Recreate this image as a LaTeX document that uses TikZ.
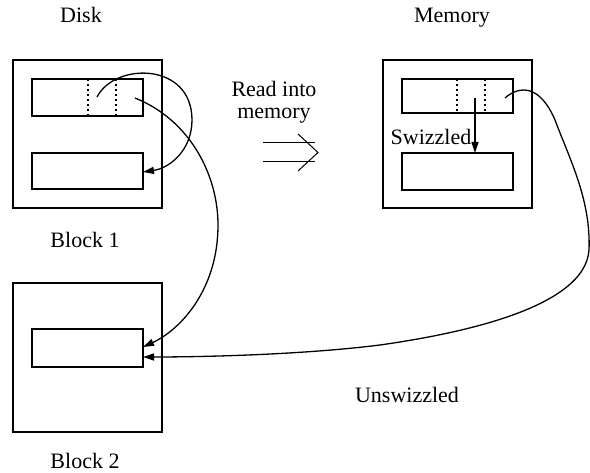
\documentclass[tikz,border=0pt]{standalone}
\usepackage{fontspec}
\setmainfont{Liberation Serif}
\newfontfamily\tmsfont{Liberation Serif}
\usetikzlibrary{arrows.meta}
\begin{document}
\begin{tikzpicture}[x=1pt,y=-1pt,
  box/.style={draw,line width=1.3pt,inner sep=0pt,outer sep=0pt},
  lbl/.style={font=\tmsfont\fontsize{22}{24}\selectfont,anchor=base,inner sep=0pt},
  dots/.style={line width=1.1pt,dash pattern=on 2pt off 3pt},
  conn/.style={line width=1.3pt,-{Triangle[length=11pt,width=7pt]}},
  conn0/.style={line width=1.3pt}]
\useasboundingbox (0,0) rectangle (590,473);
% Block 1
\node[box,minimum width=149pt,minimum height=148pt] (b1) at (87.5,134) {};
\node[box,minimum width=111pt,minimum height=37pt] (b1top) at (87.5,97.5) {};
\node[box,minimum width=111pt,minimum height=36pt] (b1bot) at (87.5,171) {};
\draw[dots] (88,79) -- (88,116);
\draw[dots] (116,79) -- (116,116);
% Block 2
\node[box,minimum width=149pt,minimum height=149pt] (b2) at (87.5,357.5) {};
\node[box,minimum width=111pt,minimum height=38pt] (b2in) at (87.5,348) {};
% Memory
\node[box,minimum width=149pt,minimum height=148pt] (m) at (457.5,134) {};
\node[box,minimum width=111pt,minimum height=34pt] (mtop) at (457.5,96) {};
\node[box,minimum width=111pt,minimum height=37pt] (mbot) at (457.5,171.5) {};
\draw[dots] (457,79) -- (457,113);
\draw[dots] (485,79) -- (485,113);
% labels
\node[lbl] (disk) at (81,23) {Disk};
\node[lbl] (mem) at (452,23) {Memory};
\node[lbl] (bl1) at (85,248) {Block 1};
\node[lbl] (bl2) at (85,468) {Block 2};
\node[lbl] (rd1) at (274,97) {Read into};
\node[lbl] (rd2) at (274,119) {memory};
\node[lbl] (unsw) at (407,403) {Unswizzled};
\node[lbl] (sw) at (431,145) {Swizzled};
% read-into double arrow
\draw[line width=1pt] (263,143) -- (315,143) (263,162) -- (315,162);
\draw[line width=1pt] (298,134) -- (318,152.5) -- (298,171);
% pointer coordinates
\coordinate (p1) at (97,97);
\coordinate (p2) at (135,98);
\coordinate (p3) at (475,98);
\coordinate (p4) at (505,98);
\coordinate (t1) at (b1bot.east |- 0,172);
\coordinate (t2) at (b2in.east |- 0,347);
\coordinate (t3) at (b2in.east |- 0,357);
% connectors
\draw[conn] (p1) .. controls (115,62) and (192,62) .. (192,120)
  .. controls (192,150) and (170,168) .. (t1);
\draw[conn] (p2) .. controls (190,120) and (218,175) .. (218,225)
  .. controls (218,290) and (180,330) .. (t2);
\draw[conn] (p3) -- (p3 |- mbot.north);
\draw[conn] (p4) .. controls (520,85) and (540,85) .. (555,120)
  .. controls (570,160) and (591,200) .. (589,250)
  .. controls (585,310) and (450,335) .. (380,345)
  .. controls (300,355) and (200,357) .. (t3);
\end{tikzpicture}
\end{document}
